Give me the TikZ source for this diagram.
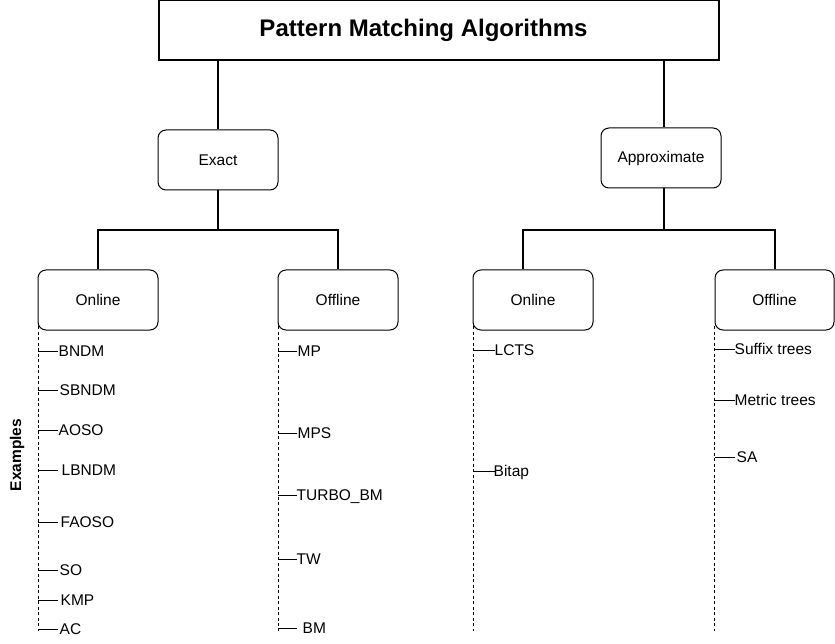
\documentclass[tikz,border=0pt]{standalone}
\usepackage{fontspec}
\setmainfont{Liberation Sans}
\usetikzlibrary{calc}
\begin{document}
\begin{tikzpicture}[x=1pt,y=-1pt,
  box/.style={draw, line width=1pt, rounded corners=8pt, minimum width=120pt, minimum height=60pt, inner sep=0pt, font=\fontsize{15.5}{18}\selectfont},
  tree/.style={line width=2pt},
  dashline/.style={line width=0.9pt, dash pattern=on 3pt off 2.5pt},
  tick/.style={line width=1pt},
  item/.style={anchor=west, inner sep=0.5pt, text height=11pt, text depth=0pt, font=\fontsize{15.5}{18}\selectfont}]
\useasboundingbox (0,0) rectangle (835,644);

% title
\node[draw, line width=1.2pt, minimum width=560pt, minimum height=60pt, inner sep=0pt,
  font=\bfseries\fontsize{24}{28}\selectfont] (title) at (439,30) {Pattern Matching Algorithms\hspace*{31pt}};

% second level
\node[box] (exact) at (218,160) {Exact};
\node[box] (approx) at (661,158) {Approximate};

% third level
\node[box] (on1) at (98,300) {Online};
\node[box] (off1) at (338,300) {Offline};
\node[box] (on2) at (533,300) {Online};
\node[box, minimum width=119pt] (off2) at (774.5,300) {Offline};

% connectors
\draw[tree] (exact.north |- title.south) -- (exact.north);
\coordinate (ta) at (664,60);
\draw[tree] (ta) -- (ta |- approx.north);
\coordinate (b1) at (218,230);
\coordinate (b2) at (664,230);
\draw[tree] (exact.south) -- (b1);
\draw[tree] (on1.north) -- (on1.north |- b1) -- (off1.north |- b1) -- (off1.north);
\draw[tree] (ta |- approx.south) -- (b2);
\draw[tree] (on2.north -| 523,0) -- (523,230) -- (775,230) -- (off2.north -| 775,0);

% Examples label
\node[rotate=90, inner sep=0pt, font=\bfseries\fontsize{15.5}{18}\selectfont] (ex) at (17,455) {Examples};

% dashed verticals
\coordinate (d1t) at (38,326); \coordinate (d1b) at (38,631);
\coordinate (d2t) at (278,326); \coordinate (d2b) at (278,631);
\coordinate (d3t) at (473,326); \coordinate (d3b) at (473,631);
\coordinate (d4t) at (714.5,326); \coordinate (d4b) at (714.5,631);
\draw[dashline] (d1t) -- (d1b);
\draw[dashline] (d2t) -- (d2b);
\draw[dashline] (d3t) -- (d3b);
\draw[dashline] (d4t) -- (d4b);

% column 1 items
\node[item] (i11) at (58,351) {BNDM};
\node[item] (i12) at (59,390) {SBNDM};
\node[item] (i13) at (58,430) {AOSO};
\node[item] (i14) at (61,470) {LBNDM};
\node[item] (i15) at (60,522) {FAOSO};
\node[item] (i16) at (59,570) {SO};
\node[item] (i17) at (60,600) {KMP};
\node[item] (i18) at (59,629) {AC};
\foreach \n in {i11,i12,i13,i14,i15,i16,i17,i18}
  \draw[tick] (\n.west -| d1t) -- (\n.west -| 58,0);

% column 2 items
\node[item] (i21) at (297,351) {MP};
\node[item] (i22) at (297,433) {MPS};
\node[item] (i23) at (296,495) {TURBO\_BM};
\node[item] (i24) at (296,559) {TW};
\node[item] (i25) at (302,628) {BM};
\foreach \n in {i21,i22,i23,i24,i25}
  \draw[tick] (\n.west -| d2t) -- (\n.west -| 297,0);

% column 3 items
\node[item] (i31) at (494,350) {LCTS};
\node[item] (i32) at (493,471) {Bitap};
\foreach \n in {i31,i32}
  \draw[tick] (\n.west -| d3t) -- (\n.west -| 495,0);

% column 4 items
\node[item] (i41) at (734,349) {Suffix trees};
\node[item] (i42) at (734,400) {Metric trees};
\node[item] (i43) at (736,457) {SA};
\foreach \n in {i41,i42,i43}
  \draw[tick] (\n.west -| d4t) -- (\n.west -| 735,0);
\end{tikzpicture}
\end{document}
